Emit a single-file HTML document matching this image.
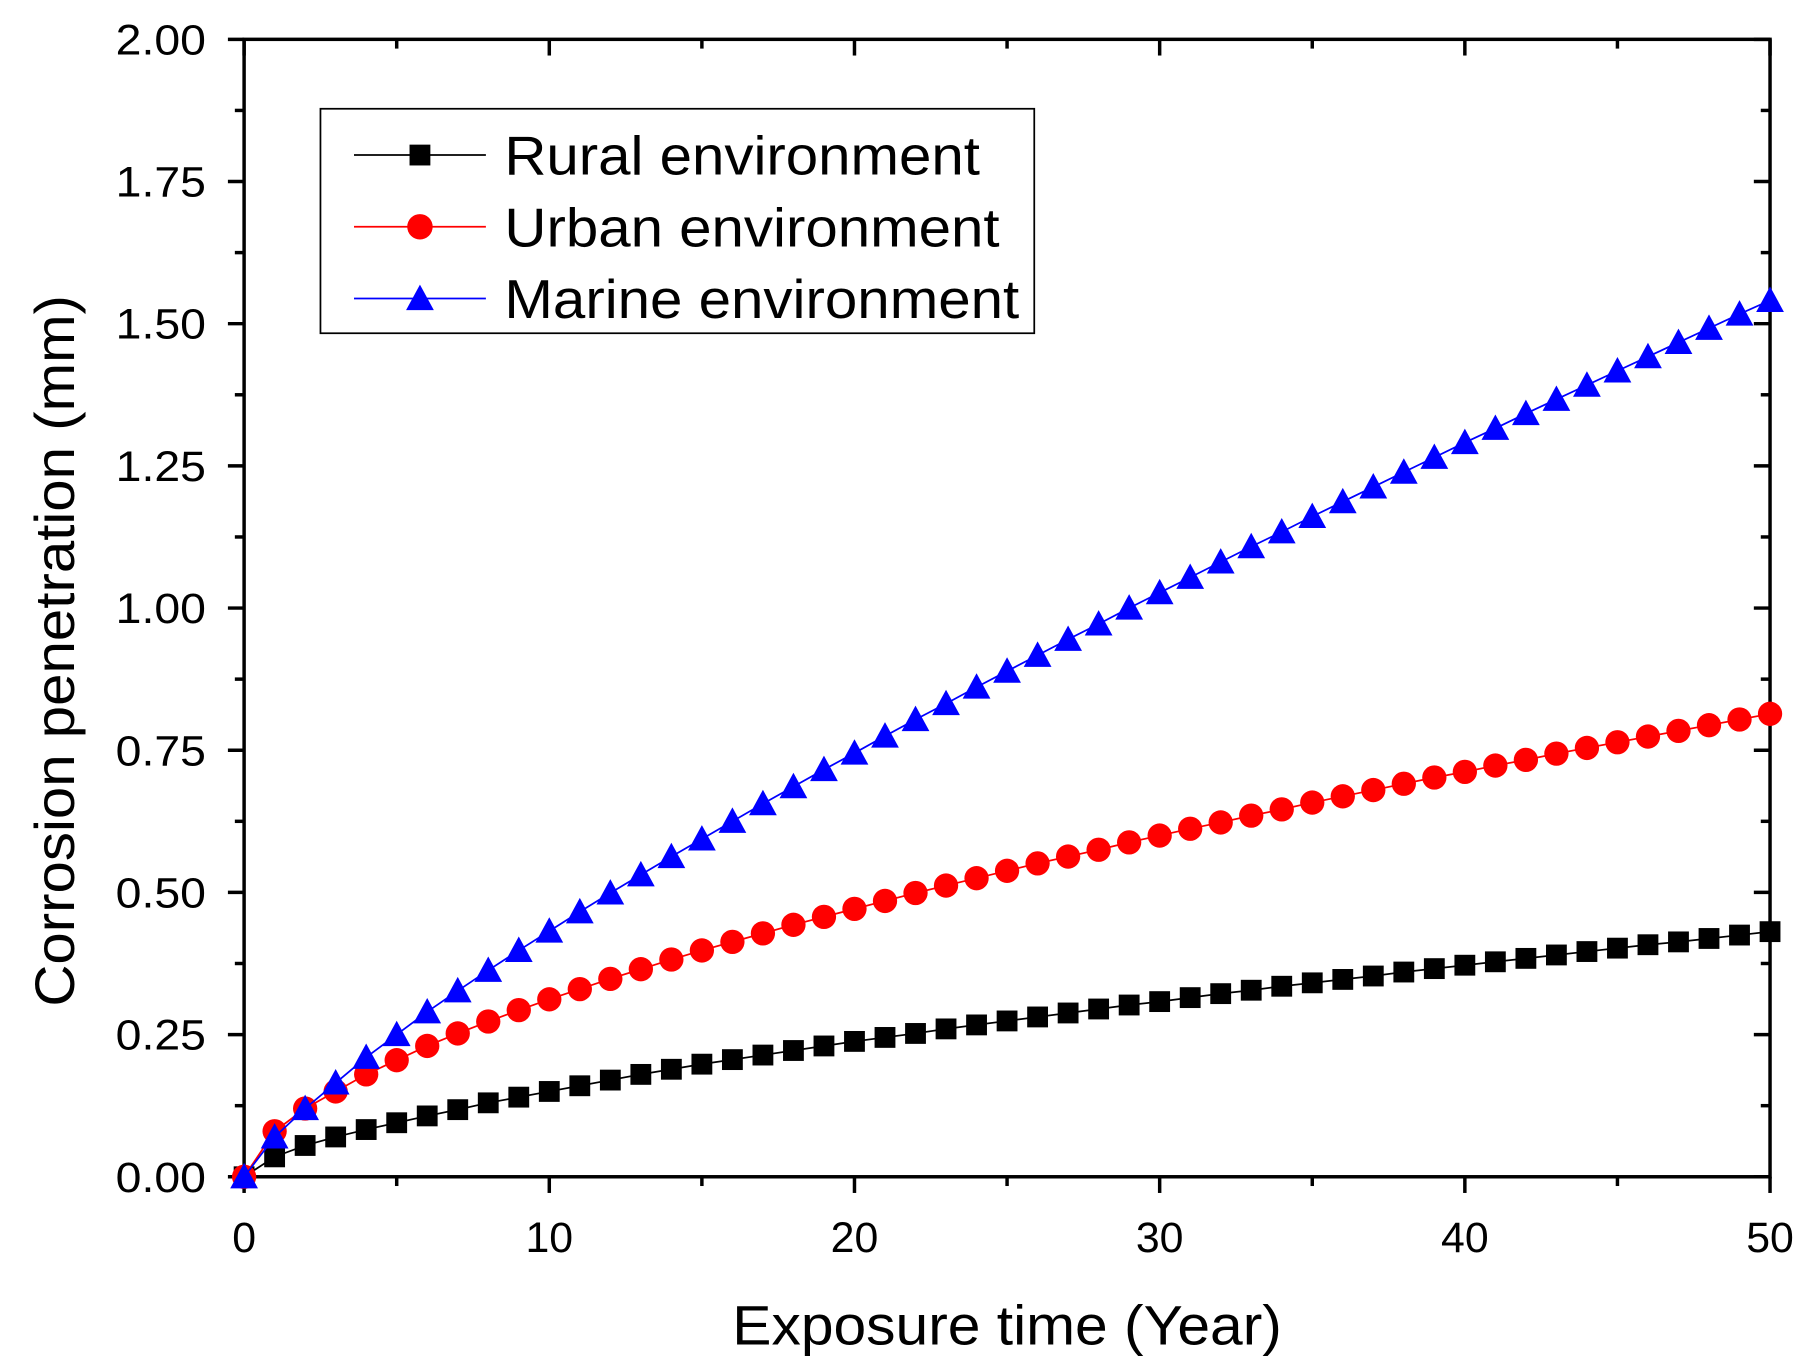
<!DOCTYPE html>
<html><head><meta charset="utf-8"><style>
html,body{margin:0;padding:0;background:#fff;}
svg{display:block;}
text{font-family:"Liberation Sans",sans-serif;fill:#000;}
</style></head><body>
<svg id="chart" width="1814" height="1370" viewBox="0 0 1568 1184" preserveAspectRatio="none" xmlns="http://www.w3.org/2000/svg">
<g id="axes"></g>
<g id="series"></g>
<g id="legend">
 <rect x="277" y="94" width="617" height="194" fill="#fff" stroke="#000" stroke-width="1.5"/>
 <g>
  <line x1="306" y1="134" x2="420" y2="134" stroke="#000" stroke-width="1.5"/>
  <rect x="354" y="125" width="18" height="18" fill="#000"/>
  <text x="436" y="151" font-size="47" textLength="411" lengthAdjust="spacingAndGlyphs">Rural environment</text>
 </g>
 <g>
  <line x1="306" y1="196" x2="420" y2="196" stroke="#f00" stroke-width="1.5"/>
  <circle cx="363" cy="196" r="11" fill="#f00"/>
  <text x="436" y="213" font-size="47" textLength="428" lengthAdjust="spacingAndGlyphs">Urban environment</text>
 </g>
 <g>
  <line x1="306" y1="258" x2="420" y2="258" stroke="#00f" stroke-width="1.5"/>
  <polygon points="363,246 375,268 351,268" fill="#00f"/>
  <text x="436" y="275" font-size="47" textLength="445" lengthAdjust="spacingAndGlyphs">Marine environment</text>
 </g>
</g>
<text x="633" y="1162" font-size="48" textLength="475" lengthAdjust="spacingAndGlyphs">Exposure time (Year)</text>
<text transform="translate(64,870) rotate(-90)" font-size="48" textLength="615" lengthAdjust="spacingAndGlyphs">Corrosion penetration (mm)</text>
</svg>
<script>
const years = Array.from({length:51},(_, i)=>i);
const rural = [0,.035,.055,.07,.083,.095,.107,.118,.13,.14,.15,.16,.17,.18,.189,.198,.206,.214,.222,.23,.238,.245,.252,.26,.267,.274,.281,.288,.295,.302,.308,.315,.322,.328,.335,.341,.347,.353,.36,.366,.372,.378,.384,.39,.396,.402,.408,.413,.419,.425,.431];
const urban = [0,.08,.12,.15,.18,.205,.23,.252,.273,.293,.312,.33,.348,.365,.382,.398,.413,.428,.443,.457,.471,.485,.499,.512,.525,.538,.551,.563,.575,.588,.6,.612,.623,.635,.646,.658,.669,.68,.691,.702,.712,.723,.733,.744,.754,.764,.774,.784,.794,.804,.814];
const marine = [0,.07,.12,.165,.21,.25,.29,.327,.363,.398,.432,.466,.499,.531,.563,.594,.625,.656,.686,.716,.745,.775,.804,.832,.861,.889,.917,.945,.972,1.0,1.027,1.054,1.081,1.108,1.134,1.161,1.187,1.213,1.239,1.265,1.291,1.316,1.342,1.367,1.392,1.417,1.442,1.467,1.492,1.517,1.541];
const xTicks = [0,10,20,30,40,50];
const yTicks = ["0.00","0.25","0.50","0.75","1.00","1.25","1.50","1.75","2.00"];

const NS="http://www.w3.org/2000/svg";
const L=211,R=1530,T=34,B=1017;
const xs=v=>L+(v/50)*(R-L);
const ys=v=>B-(v/2)*(B-T);
function mk(tag,attrs,parent){const e=document.createElementNS(NS,tag);for(const k in attrs)e.setAttribute(k,attrs[k]);parent.appendChild(e);return e;}
const ax=document.getElementById('axes');
const f=mk('rect',{x:L,y:T,width:R-L,height:B-T,fill:'none',stroke:'#000','stroke-width':3},ax);


for(let v=0;v<=50;v+=5){
  const maj=v%10===0, len=maj?14:8, x=xs(v);
  const t=mk('line',{x1:x,y1:B,x2:x,y2:B+len,stroke:'#000','stroke-width':3},ax);
  
  
  mk('line',{x1:x,y1:T,x2:x,y2:T+len,stroke:'#000','stroke-width':3},ax);
}
xTicks.forEach(v=>{
  const t=mk('text',{x:xs(v),y:1082,'font-size':37,'text-anchor':'middle'},ax);t.textContent=v;
  
  
});
for(let i=0;i<=16;i++){
  const v=i*0.125, maj=i%2===0, len=maj?14:8, y=ys(v);
  const t=mk('line',{x1:L-len,y1:y,x2:L,y2:y,stroke:'#000','stroke-width':3},ax);
  
  
  mk('line',{x1:R-len,y1:y,x2:R,y2:y,stroke:'#000','stroke-width':3},ax);
}
yTicks.forEach(s=>{
  const t=mk('text',{x:100,y:ys(parseFloat(s))+13,'font-size':37,textLength:78,lengthAdjust:'spacingAndGlyphs'},ax);t.textContent=s;
  
  
});
const sg=document.getElementById('series');
function series(data,color,shape,name){
  const g=mk('g',{},sg);
  
  
  mk('polyline',{points:data.map((v,i)=>xs(years[i])+','+ys(v)).join(' '),fill:'none',stroke:color,'stroke-width':1.5},g);
  data.forEach((v,i)=>{
    const x=xs(years[i]),y=ys(v);let m;
    if(shape==='sq')m=mk('rect',{x:x-9,y:y-9,width:18,height:18,fill:color},g);
    else if(shape==='ci')m=mk('circle',{cx:x,cy:y,r:10.5,fill:color},g);
    else m=mk('polygon',{points:`${x},${y-12} ${x+12},${y+10} ${x-12},${y+10}`,fill:color},g);
    
    
  });
}
series(rural,'#000','sq','rural-series');
series(urban,'#f00','ci','urban-series');
series(marine,'#00f','tr','marine-series');
</script>
</body></html>
